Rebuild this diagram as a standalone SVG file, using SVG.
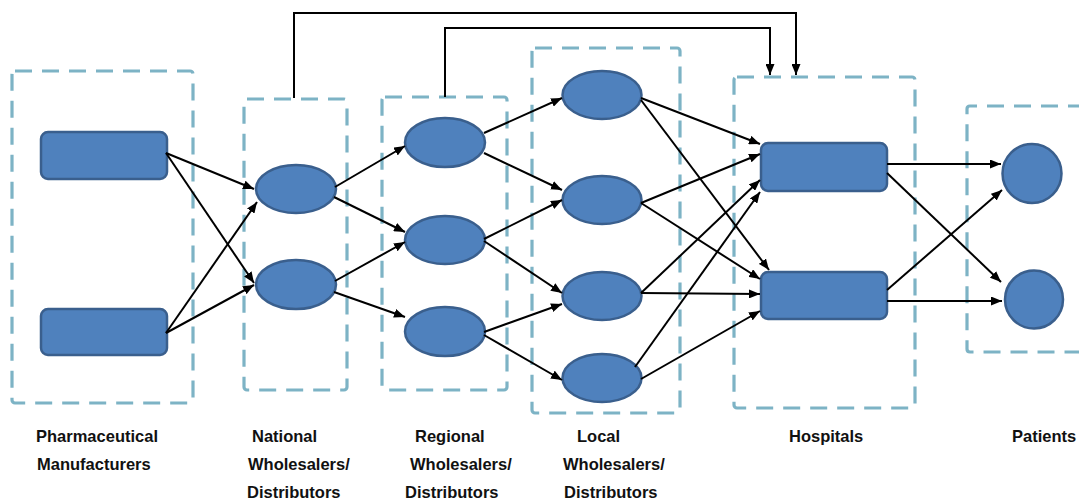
<svg xmlns="http://www.w3.org/2000/svg" width="1079" height="499" viewBox="0 0 1079 499">
  <style>
    .tier { fill: none; stroke: #7DB3C5; stroke-width: 3.2; stroke-dasharray: 17 10; }
    .node { fill: #4F81BD; stroke: #3A5F8D; stroke-width: 2.5; }
    .link { fill: none; stroke: #000; stroke-width: 2; marker-end: url(#arrow); }
    .feed { fill: none; stroke: #000; stroke-width: 2; }
    .label { font-family: "Liberation Sans", Arial, sans-serif; font-weight: bold; font-size: 16.5px; fill: #111; }
  </style>
  <defs>
    <marker id="arrow" markerUnits="userSpaceOnUse" markerWidth="11" markerHeight="9" refX="11" refY="4.5" orient="auto">
      <path d="M0,0 L11,4.5 L0,9 z" fill="#000"/>
    </marker>
  </defs>

  <rect width="1079" height="499" fill="#fff"/>

  <!-- tier frames -->
  <g id="tiers">
    <rect class="tier" x="12" y="71" width="181" height="332" rx="3"/>
    <rect class="tier" x="244" y="99" width="103" height="291" rx="3"/>
    <rect class="tier" x="382" y="97" width="125" height="293" rx="3"/>
    <rect class="tier" x="532" y="48" width="148" height="365" rx="3"/>
    <rect class="tier" x="734" y="77" width="181" height="331" rx="3"/>
    <path class="tier" d="M1085,106 H970 Q967,106 967,109 V349 Q967,352 970,352 H1085"/>
  </g>

  <!-- manufacturers -->
  <g id="manufacturer-1"><rect class="node" x="41" y="132" width="126" height="47" rx="7"/></g>
  <g id="manufacturer-2"><rect class="node" x="41" y="309" width="126" height="46" rx="7"/></g>

  <!-- national wholesalers -->
  <g id="national-1"><ellipse class="node" cx="296" cy="189" rx="40" ry="24"/></g>
  <g id="national-2"><ellipse class="node" cx="296" cy="284.5" rx="40" ry="24.5"/></g>

  <!-- regional wholesalers -->
  <g id="regional-1"><ellipse class="node" cx="445" cy="142.5" rx="40" ry="24.5"/></g>
  <g id="regional-2"><ellipse class="node" cx="445" cy="240" rx="40" ry="24"/></g>
  <g id="regional-3"><ellipse class="node" cx="445" cy="331.5" rx="40" ry="24.5"/></g>

  <!-- local wholesalers -->
  <g id="local-1"><ellipse class="node" cx="602" cy="95" rx="39.5" ry="24"/></g>
  <g id="local-2"><ellipse class="node" cx="602" cy="200" rx="39.5" ry="24"/></g>
  <g id="local-3"><ellipse class="node" cx="602" cy="296" rx="39.5" ry="24"/></g>
  <g id="local-4"><ellipse class="node" cx="602" cy="378" rx="39.5" ry="24"/></g>

  <!-- hospitals -->
  <g id="hospital-1"><rect class="node" x="761" y="143" width="126" height="48" rx="7"/></g>
  <g id="hospital-2"><rect class="node" x="761" y="272" width="126" height="47" rx="7"/></g>

  <!-- patients -->
  <g id="patient-1"><circle class="node" cx="1032" cy="173.5" r="29.5"/></g>
  <g id="patient-2"><circle class="node" cx="1034" cy="299.5" r="29"/></g>

  <!-- connectors -->
  <g id="connectors">
    <!-- direct supply to hospitals -->
    <path class="feed" d="M294,98 V13 H796 V66"/>
    <path class="link" d="M796,60 V75"/>
    <path class="feed" d="M445,97 V28 H770 V66"/>
    <path class="link" d="M770,60 V75"/>

    <!-- manufacturers to national -->
    <line class="link" x1="166" y1="153" x2="254" y2="189"/>
    <line class="link" x1="166" y1="153" x2="254" y2="283"/>
    <line class="link" x1="166" y1="333" x2="257" y2="202"/>
    <line class="link" x1="166" y1="333" x2="254" y2="285"/>

    <!-- national to regional -->
    <line class="link" x1="335" y1="187" x2="405" y2="146"/>
    <line class="link" x1="334" y1="197" x2="405" y2="232"/>
    <line class="link" x1="335" y1="281" x2="405" y2="242"/>
    <line class="link" x1="334" y1="292" x2="405" y2="317"/>

    <!-- regional to local -->
    <line class="link" x1="484" y1="133" x2="562" y2="98"/>
    <line class="link" x1="484" y1="153" x2="562" y2="190"/>
    <line class="link" x1="484" y1="239" x2="562" y2="200"/>
    <line class="link" x1="484" y1="241" x2="562" y2="293"/>
    <line class="link" x1="484" y1="332" x2="562" y2="304"/>
    <line class="link" x1="484" y1="335" x2="562" y2="380"/>

    <!-- local to hospitals -->
    <line class="link" x1="641" y1="98" x2="760" y2="144"/>
    <line class="link" x1="641" y1="100" x2="769" y2="270"/>
    <line class="link" x1="641" y1="203" x2="760" y2="154"/>
    <line class="link" x1="641" y1="203" x2="760" y2="279"/>
    <line class="link" x1="641" y1="293" x2="760" y2="180"/>
    <line class="link" x1="641" y1="293" x2="760" y2="294"/>
    <line class="link" x1="635" y1="367" x2="760" y2="192"/>
    <line class="link" x1="641" y1="379" x2="760" y2="311"/>

    <!-- hospitals to patients -->
    <line class="link" x1="887" y1="164" x2="1001" y2="164"/>
    <line class="link" x1="887" y1="173" x2="1001" y2="282"/>
    <line class="link" x1="887" y1="290" x2="1002" y2="190"/>
    <line class="link" x1="887" y1="301" x2="1002" y2="301"/>
  </g>

  <!-- tier captions -->
  <g id="captions" class="label">
    <text x="36" y="442">Pharmaceutical</text>
    <text x="37" y="470">Manufacturers</text>
    <text x="252" y="442">National</text>
    <text x="248" y="470">Wholesalers/</text>
    <text x="247" y="498">Distributors</text>
    <text x="415" y="442">Regional</text>
    <text x="410" y="470">Wholesalers/</text>
    <text x="405" y="498">Distributors</text>
    <text x="577" y="442">Local</text>
    <text x="563" y="470">Wholesalers/</text>
    <text x="564" y="498">Distributors</text>
    <text x="789" y="442">Hospitals</text>
    <text x="1012" y="442">Patients</text>
  </g>
</svg>
